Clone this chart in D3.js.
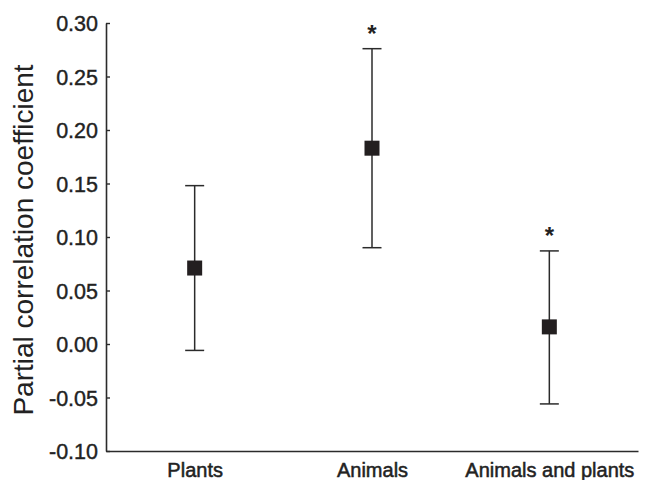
<!DOCTYPE html>
<html>
<head>
<meta charset="utf-8">
<script src="https://cdn.jsdelivr.net/npm/d3@7"></script>
<style>
  body { margin: 0; background: #fff; }
  text { font-family: "Liberation Sans", Arial, sans-serif; }
</style>
</head>
<body>
<div id="chart"></div>
<script>
((exports) => {
    let groups = ["Plants", "Animals", "Animals and plants"],
        estimates = [0.071, 0.183, 0.016],
        lower = [-0.006, 0.090, -0.056],
        upper = [0.148, 0.276, 0.087],
        significant = [false, true, true],
        yTicks = [-0.10, -0.05, 0.00, 0.05, 0.10, 0.15, 0.20, 0.25, 0.30]

    let width = 654, height = 480,
        margin = {top: 23, right: 16, bottom: 29, left: 106},
        ink = "#2b2b2b"

    let svg = d3.select("div#chart").append("svg")
        .attr("width", width)
        .attr("height", height)

    let x = d3.scalePoint()
        .domain(groups)
        .range([margin.left, width - margin.right])
        .padding(0.5)

    let y = d3.scaleLinear()
        .domain([-0.10, 0.30])
        .range([height - margin.bottom, margin.top])

    // left axis, ticks point inward
    let yAxis = svg.append("g")
        .attr("transform", `translate(${margin.left},0)`)
        .call(d3.axisLeft(y).tickValues(yTicks)
            .tickSizeInner(-4).tickSizeOuter(0).tickPadding(8))
    yAxis.select(".domain").attr("stroke", ink).attr("stroke-width", 1.6)
    yAxis.selectAll(".tick line").attr("stroke", ink).attr("stroke-width", 1.4)
    yAxis.selectAll(".tick text")
        .attr("fill", "#222")
        .attr("stroke", "#222")
        .attr("stroke-width", 0.4)
        .attr("font-size", 21.5)
        .attr("x", -8)
        .attr("dy", "0.35em")
        .text(d => d3.format(".2f")(d).replace("−", "-"))

    // bottom axis, no ticks
    let xAxis = svg.append("g")
        .attr("transform", `translate(0,${height - margin.bottom})`)
        .call(d3.axisBottom(x).tickSize(0).tickPadding(12))
    xAxis.select(".domain").attr("stroke", ink).attr("stroke-width", 1.6)
    xAxis.selectAll(".tick text")
        .attr("fill", "#222")
        .attr("stroke", "#222")
        .attr("stroke-width", 0.5)
        .attr("font-size", 20)

    svg.append("text")
        .attr("transform", "translate(33,240) rotate(-90)")
        .attr("text-anchor", "middle")
        .attr("font-size", 28)
        .attr("fill", "#222")
        .text("Partial correlation coefficient")

    let rows = groups.map((g, i) => ({
        g: g, est: estimates[i], lo: lower[i], hi: upper[i], sig: significant[i]
    }))

    let marks = svg.append("g").selectAll("g")
        .data(rows)
        .join("g")
        .attr("transform", d => `translate(${x(d.g)},0)`)

    marks.append("line")
        .attr("y1", d => y(d.lo))
        .attr("y2", d => y(d.hi))
        .attr("stroke", ink)
        .attr("stroke-width", 1.5)

    marks.selectAll("line.cap")
        .data(d => [d.lo, d.hi])
        .join("line")
        .attr("class", "cap")
        .attr("x1", -9.5)
        .attr("x2", 9.5)
        .attr("y1", d => y(d))
        .attr("y2", d => y(d))
        .attr("stroke", ink)
        .attr("stroke-width", 1.5)

    marks.append("rect")
        .attr("x", -7.5)
        .attr("y", d => y(d.est) - 7.5)
        .attr("width", 15)
        .attr("height", 15)
        .attr("fill", "#231f20")

    marks.filter(d => d.sig).append("text")
        .attr("y", d => y(d.hi) - 7)
        .attr("text-anchor", "middle")
        .attr("font-size", 24)
        .attr("font-weight", "bold")
        .attr("fill", "#222")
        .text("*")
})(window);
</script>
</body>
</html>
